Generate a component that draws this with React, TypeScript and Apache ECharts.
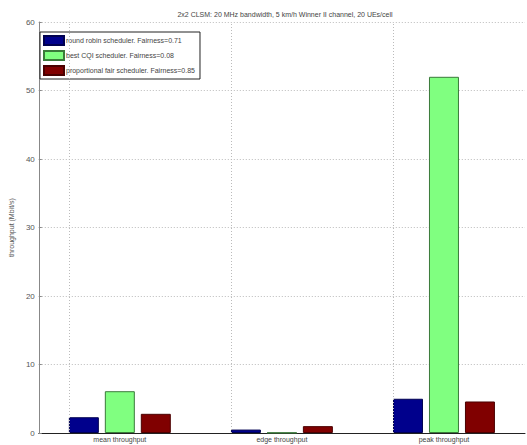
import React, { useEffect, useRef } from "react";
import * as echarts from "echarts";

const categories = ["mean throughput", "edge throughput", "peak throughput"];
const roundRobin = [2.3, 0.5, 5.0];
const bestCqi = [6.1, 0.05, 52.0];
const propFair = [2.8, 1.0, 4.6];
const seriesNames = [
  "round robin scheduler. Fairness=0.71",
  "best CQI scheduler. Fairness=0.08",
  "proportional fair scheduler. Fairness=0.85",
];
const yTicks = [0, 10, 20, 30, 40, 50, 60];

const FONT = "'Liberation Sans', Arial, sans-serif";

export default function App() {
  const ref = useRef<HTMLDivElement>(null);
  useEffect(() => {
    const chart = echarts.init(ref.current!, undefined, { renderer: "svg" });
    const barStyle = (c: string, b: string) => ({ color: c, borderColor: b, borderWidth: 1 });
    chart.setOption({
      animation: false,
      backgroundColor: "#fff",
      textStyle: { fontFamily: FONT },
      title: {
        text: "2x2 CLSM: 20 MHz bandwidth, 5 km/h Winner II channel, 20 UEs/cell",
        left: 280,
        top: 6,
        textAlign: "center",
        textStyle: { fontSize: 7, fontWeight: "normal", color: "#444", fontFamily: FONT },
      },
      legend: {
        data: seriesNames,
        orient: "vertical",
        left: 40,
        top: 32,
        itemWidth: 20,
        itemHeight: 9,
        itemGap: 4,
        padding: [3, 5, 3, 3],
        borderColor: "#222",
        borderWidth: 1,
        backgroundColor: "#fff",
        icon: "rect",
        textStyle: { fontSize: 7, color: "#444", fontFamily: FONT, padding: [0, 0, 0, -3] },
      },
      grid: { left: 36, right: 2, top: 22, bottom: 12 },
      xAxis: {
        type: "category",
        data: categories,
        axisLine: { lineStyle: { color: "#222", width: 1 } },
        axisTick: { show: false },
        axisLabel: { fontSize: 7, color: "#444", margin: 3, fontFamily: FONT },
        splitLine: { show: false },
      },
      yAxis: {
        type: "value",
        min: 0,
        max: 60,
        interval: 10,
        name: "throughput (Mbit/s)",
        nameLocation: "middle",
        nameGap: 12,
        nameTextStyle: { fontSize: 7, color: "#555", fontFamily: FONT },
        axisLine: { show: true, lineStyle: { color: "#888" } },
        axisTick: { show: true, inside: true, length: 3, lineStyle: { color: "#888" } },
        axisLabel: {
          fontSize: 8,
          color: "#555",
          margin: 4,
          fontFamily: FONT,
          formatter: (v: number) => (yTicks.includes(v) ? String(v) : ""),
        },
        splitLine: { show: true, lineStyle: { color: "#bbb", type: [1, 2], width: 1 } },
      },
      series: [
        {
          type: "bar",
          name: "grid",
          data: [],
          z: 0,
          silent: true,
          markLine: {
            silent: true,
            symbol: "none",
            label: { show: false },
            lineStyle: { color: "#bbb", type: [1, 2], width: 1 },
            data: categories.map((c) => ({ xAxis: c })),
          },
        },
        {
          type: "bar",
          name: seriesNames[0],
          data: roundRobin,
          barWidth: "18.5%",
          barGap: "20%",
          itemStyle: barStyle("#00008C", "#000050"),
          z: 3,
        },
        {
          type: "bar",
          name: seriesNames[1],
          data: bestCqi,
          barWidth: "18.5%",
          barGap: "20%",
          itemStyle: barStyle("#80FF80", "#3a7a3a"),
          z: 3,
        },
        {
          type: "bar",
          name: seriesNames[2],
          data: propFair,
          barWidth: "18.5%",
          barGap: "20%",
          itemStyle: barStyle("#800000", "#4a0000"),
          z: 3,
        },
      ],
    });
    return () => chart.dispose();
  }, []);
  return (
    <div
      ref={ref}
      style={{ position: "absolute", left: 0, top: 0, width: 527, height: 445 }}
    />
  );
}
